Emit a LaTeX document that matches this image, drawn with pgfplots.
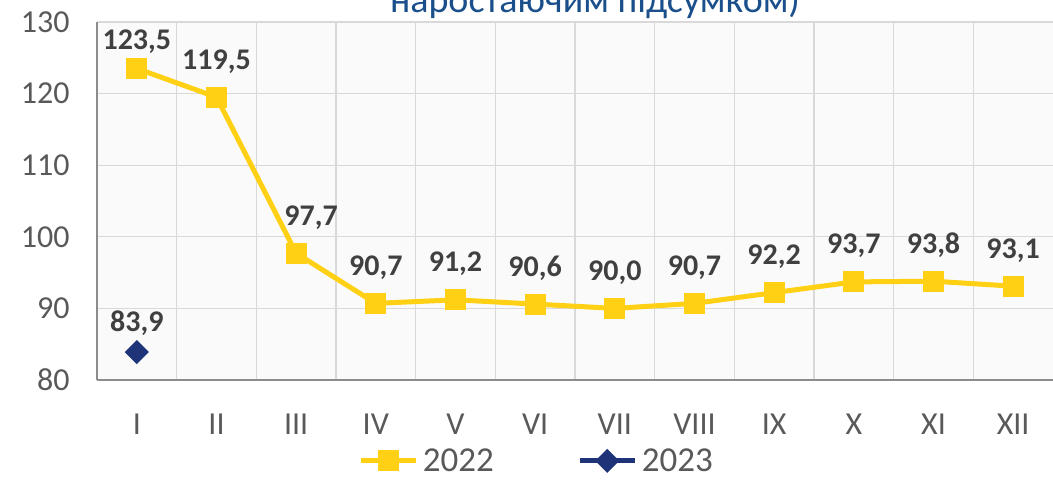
\documentclass[border=0pt]{standalone}
\usepackage{pgfplots}
\pgfplotsset{compat=1.18}
\usepackage{fontspec}
\setmainfont{Carlito}
\definecolor{yel}{HTML}{FFD014}
\definecolor{navy}{HTML}{1F3378}
\definecolor{tickgray}{HTML}{595959}
\definecolor{labgray}{HTML}{404040}
\definecolor{gridgray}{HTML}{D9D9D9}
\definecolor{axgray}{HTML}{8C8C8C}
\definecolor{titleblue}{HTML}{1A4F8B}
\definecolor{bggray}{HTML}{FAFAFA}
\begin{document}
\begin{tikzpicture}
\useasboundingbox (-97pt,-101pt) rectangle (956pt,380pt);
\clip (-97pt,-101pt) rectangle (956pt,380pt);
\begin{axis}[
  at={(0pt,0pt)}, anchor=south west,
  scale only axis, width=956pt, height=358pt,
  xmin=-0.5, xmax=11.5, ymin=80, ymax=130,
  ytick={80,90,...,130},
  xtick={0,...,11},
  xticklabels={I,II,III,IV,V,VI,VII,VIII,IX,X,XI,XII},
  minor xtick={0.5,1.5,...,10.5},
  xminorgrids, ymajorgrids,
  major tick length=0pt, minor tick length=0pt,
  grid style={gridgray, line width=1.3pt},
  minor grid style={gridgray, line width=1.3pt},
  axis line style={axgray, line width=1.5pt},
  axis x line*=bottom, axis y line*=left,
  axis background/.style={fill=bggray},
  /pgf/number format/assume math mode=true,
  ticklabel style={font=\fontsize{32}{32}\selectfont, text=tickgray},
  yticklabel style={xshift=-24pt},
  xticklabel style={yshift=-30pt},
  clip=false,
  legend columns=2,
  legend style={at={(axis description cs:0.46,-0.226)}, anchor=center,
    draw=none, fill=none, font=\fontsize{35}{35}\selectfont, text=tickgray,
    inner sep=0pt, outer sep=0pt,
    /tikz/every even column/.append style={column sep=82pt},
    /tikz/every odd column/.append style={column sep=2pt}},
  legend image code/.code={\draw[mark repeat=2,mark phase=2,#1] plot coordinates {(0pt,0pt) (27pt,0pt) (55pt,0pt)};},
  point meta=explicit symbolic,
  nodes near coords style={font=\fontsize{30}{30}\selectfont\bfseries, text=labgray, anchor=base, inner sep=0pt},
]
\addplot[yel, line width=5pt, mark=square*, mark size=8pt, mark options={solid},
  nodes near coords, nodes near coords style={yshift=28pt}]
  coordinates {
  (0,123.5) []
  (1,119.5) [119,5]
  (2,97.7) []
  (3,90.7) [90,7]
  (4,91.2) [91,2]
  (5,90.6) [90,6]
  (6,90.0) [90,0]
  (7,90.7) [90,7]
  (8,92.2) [92,2]
  (9,93.7) [93,7]
  (10,93.8) [93,8]
  (11,93.1) [93,1]
  };
\addlegendentry{2022}
\addplot[navy, line width=5pt, mark=square*, mark size=6pt, mark options={solid, rotate=45},
  nodes near coords, nodes near coords style={yshift=21pt}]
  coordinates {(0,83.9) [83,9]};
\addlegendentry{2023}
\addplot[draw=none, mark=none, forget plot, nodes near coords, nodes near coords style={yshift=19pt}]
  coordinates {(0,123.5) [123,5]};
\addplot[draw=none, mark=none, forget plot, nodes near coords, nodes near coords style={yshift=28pt, xshift=15pt}]
  coordinates {(2,97.7) [97,7]};
\end{axis}
\node[font=\fontsize{38}{38}\selectfont, text=titleblue, anchor=base, inner sep=0pt] at (498pt,367pt) {наростаючим підсумком)};
\end{tikzpicture}
\end{document}
